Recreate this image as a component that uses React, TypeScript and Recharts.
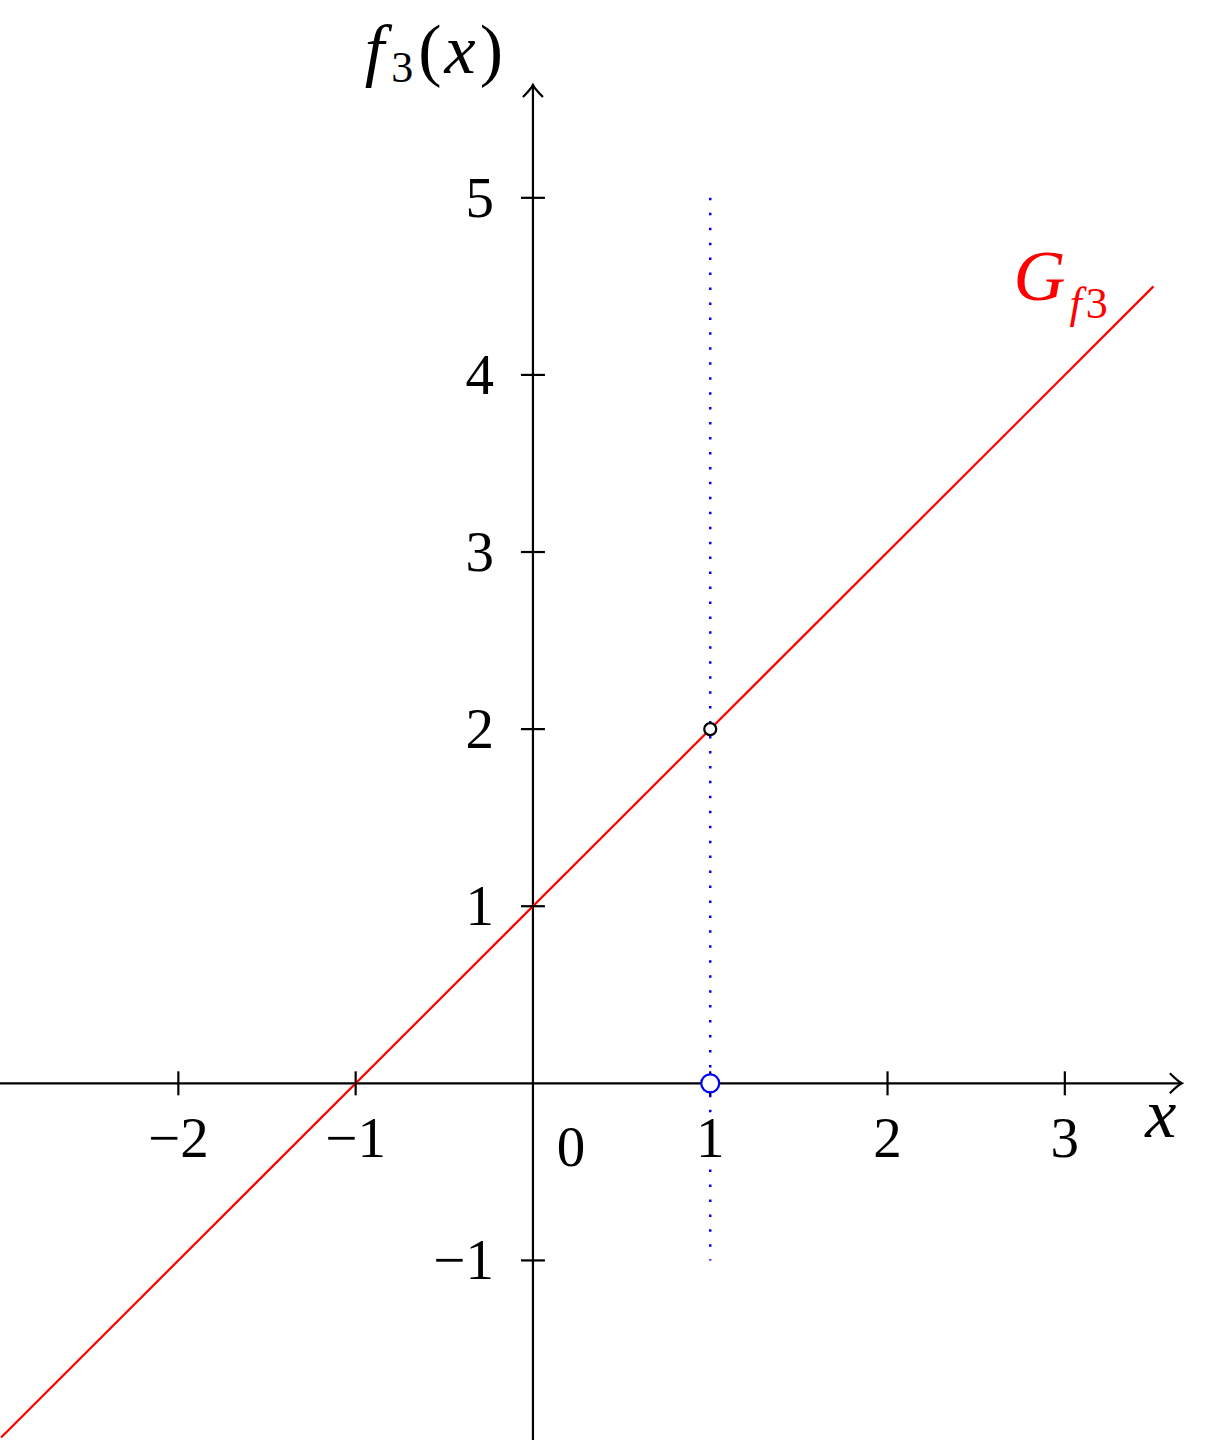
import React from 'react';
import { ComposedChart, Line, Scatter, XAxis, YAxis } from 'recharts';

const xDomain = [-3.006, 3.926];
const yDomain = [-2.014, 6.117];

// f3(x) = x + 1
const graphPoints = [
  { x: -3, y: -2 },
  { x: 3.5, y: 4.5 },
];
const dottedPoints = [
  { x: 1, y: 5 },
  { x: 1, y: -1 },
];
const xAxisPoints = [
  { x: -3.1, y: 0 },
  { x: 3.66, y: 0 },
];
const yAxisPoints = [
  { x: 0, y: -2.1 },
  { x: 0, y: 5.637 },
];
const holePoints = [{ x: 1, y: 2 }];
const rootPoints = [{ x: 1, y: 0 }];
const xTicks = [-2, -1, 1, 2, 3];
const yTicks = [-1, 1, 2, 3, 4, 5];
const originPoints = [{ x: 0, y: 0 }];

const FONT = "'Liberation Serif', 'DejaVu Serif', serif";
const fmt = (v: number) => (v < 0 ? '\u2212' + Math.abs(v) : String(v));

const xArrow = (props: any) => {
  const { cx, cy, index } = props;
  if (index !== xAxisPoints.length - 1) return <g key={`xa-${index}`} />;
  return (
    <g key={`xa-${index}`}>
      <path
        d={`M ${cx - 12} ${cy - 10} Q ${cx - 4} ${cy - 2} ${cx} ${cy} Q ${cx - 4} ${cy + 2} ${cx - 12} ${cy + 10}`}
        fill="none"
        stroke="#000"
        strokeWidth={2.2}
      />
      <text x={cx - 21} y={cy + 54} textAnchor="middle" fontFamily={FONT} fontSize={70} fontStyle="italic" fill="#000">
        x
      </text>
    </g>
  );
};

const yArrow = (props: any) => {
  const { cx, cy, index } = props;
  if (index !== yAxisPoints.length - 1) return <g key={`ya-${index}`} />;
  return (
    <g key={`ya-${index}`}>
      <path
        d={`M ${cx - 10} ${cy + 12} Q ${cx - 2} ${cy + 4} ${cx} ${cy} Q ${cx + 2} ${cy + 4} ${cx + 10} ${cy + 12}`}
        fill="none"
        stroke="#000"
        strokeWidth={2.2}
      />
      <text x={cx - 30} y={cy - 12} textAnchor="end" fontFamily={FONT} fontSize={70} fill="#000">
        <tspan fontStyle="italic">f</tspan>
        <tspan fontSize={44} dx={7} dy={9}>3</tspan>
        <tspan dx={5} dy={-9}>(</tspan>
        <tspan dx={3} fontStyle="italic">x</tspan>
        <tspan dx={4}>)</tspan>
      </text>
    </g>
  );
};

const graphLabel = (props: any) => {
  const { cx, cy, index } = props;
  if (index !== graphPoints.length - 1) return <g key={`gl-${index}`} />;
  return (
    <text key={`gl-${index}`} x={cx - 140} y={cy + 14} fontFamily={FONT} fontSize={72} fill="#ff0000">
      <tspan fontStyle="italic">G</tspan>
      <tspan fontSize={44} dx={4} dy={18} fontStyle="italic">f</tspan>
      <tspan fontSize={44} dx={4}>3</tspan>
    </text>
  );
};

const XTick = (props: any) => {
  const { cx, cy, payload } = props;
  return (
    <g>
      <line x1={cx} y1={cy - 12} x2={cx} y2={cy + 12} stroke="#000" strokeWidth={2.2} />
      <text x={cx} y={cy + 74} textAnchor="middle" fontFamily={FONT} fontSize={57} fill="#000">
        {fmt(payload.x)}
      </text>
    </g>
  );
};

const YTick = (props: any) => {
  const { cx, cy, payload } = props;
  return (
    <g>
      <line x1={cx - 12} y1={cy} x2={cx + 12} y2={cy} stroke="#000" strokeWidth={2.2} />
      <text x={cx - 39} y={cy + 19} textAnchor="end" fontFamily={FONT} fontSize={57} fill="#000">
        {fmt(payload.y)}
      </text>
    </g>
  );
};

const OriginLabel = (props: any) => {
  const { cx, cy } = props;
  return (
    <text x={cx + 38} y={cy + 83} textAnchor="middle" fontFamily={FONT} fontSize={57} fill="#000">
      0
    </text>
  );
};

const Hole = (props: any) => {
  const { cx, cy } = props;
  return <circle cx={cx} cy={cy} r={6} fill="#fff" stroke="#000" strokeWidth={2.2} />;
};

const Root = (props: any) => {
  const { cx, cy } = props;
  return <circle cx={cx} cy={cy} r={9} fill="#fff" stroke="#0000ff" strokeWidth={2.2} />;
};

export default function App() {
  return (
    <div style={{ position: 'absolute', left: 0, top: 0, width: 1229, height: 1440, background: '#fff' }}>
      <ComposedChart width={1229} height={1440} margin={{ top: 0, right: 0, bottom: 0, left: 0 }}>
        <XAxis type="number" dataKey="x" domain={xDomain} allowDataOverflow hide />
        <YAxis type="number" dataKey="y" domain={yDomain} allowDataOverflow hide />

        <Line data={xAxisPoints} dataKey="y" stroke="#000" strokeWidth={2.2} dot={xArrow} activeDot={false} isAnimationActive={false} />
        <Line data={yAxisPoints} dataKey="y" stroke="#000" strokeWidth={2.2} dot={yArrow} activeDot={false} isAnimationActive={false} />

        <Scatter data={xTicks.map((t) => ({ x: t, y: 0 }))} shape={XTick} isAnimationActive={false} />
        <Scatter data={yTicks.map((t) => ({ x: 0, y: t }))} shape={YTick} isAnimationActive={false} />
        <Scatter data={originPoints} shape={OriginLabel} isAnimationActive={false} />

        <Line data={graphPoints} dataKey="y" stroke="#ff0000" strokeWidth={2.2} dot={graphLabel} activeDot={false} isAnimationActive={false} />

        <Scatter data={holePoints} shape={Hole} isAnimationActive={false} />
        <Scatter data={rootPoints} shape={Root} isAnimationActive={false} />

        <Line
          data={dottedPoints}
          dataKey="y"
          stroke="#0000ff"
          strokeWidth={2.5}
          strokeDasharray="2.5 12.45"
          dot={false}
          activeDot={false}
          isAnimationActive={false}
        />
      </ComposedChart>
    </div>
  );
}
